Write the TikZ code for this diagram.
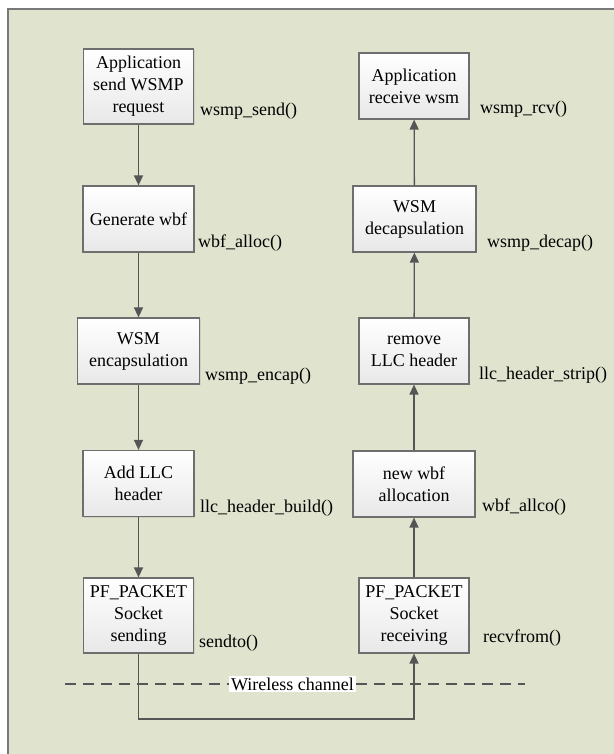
\documentclass[tikz,border=0pt]{standalone}
\usepackage{fontspec}
\setmainfont{Liberation Serif}
\usetikzlibrary{arrows.meta,shadows}
\definecolor{bgc}{RGB}{224,228,207}
\definecolor{framec}{RGB}{120,120,120}
\definecolor{boxline}{RGB}{110,110,110}
\definecolor{linec}{RGB}{85,85,85}
\tikzset{
  stepbox/.style={draw=boxline, line width=1.2pt, top color=white, bottom color=black!9,
    align=center, inner sep=0pt, minimum height=66pt, minimum width=110pt,
    font=\fontsize{18}{22}\selectfont,
    drop shadow={opacity=0.18, shadow xshift=1.2pt, shadow yshift=-1.2pt}},
  fnlabel/.style={anchor=west, inner sep=0pt, font=\fontsize{18}{22}\selectfont},
  flow/.style={draw=linec, line width=1.3pt, -{Triangle[length=10pt,width=9pt]}},
  dashline/.style={draw=linec, line width=1.3pt, dash pattern=on 11pt off 7pt},
}
\begin{document}
\begin{tikzpicture}[x=1pt,y=-1pt]
\useasboundingbox (0,0) rectangle (613,754);
\fill[white] (0,0) rectangle (613,754);
\fill[bgc] (8,9) rectangle (620,760);
\draw[framec, line width=1.4pt] (8,760) -- (8,9) -- (620,9);

% left column
\node[stepbox, minimum height=75pt] (s1) at (138.5,86.5) {Application\\send WSMP\\request};
\node[stepbox, minimum width=111pt] (s2) at (138.5,219) {Generate wbf};
\node[stepbox, minimum width=122pt] (s3) at (138.5,351) {WSM\\encapsulation};
\node[stepbox, minimum width=111pt] (s4) at (138.5,483.5) {Add LLC\\header};
\node[stepbox, minimum height=75pt] (s5) at (138.5,615.5) {PF\_PACKET\\Socket\\sending};

% right column
\node[stepbox] (r1) at (414,86) {Application\\receive wsm};
\node[stepbox, minimum width=123pt] (r2) at (414.5,219) {WSM\\decapsulation};
\node[stepbox] (r3) at (414,351) {remove\\LLC header};
\node[stepbox, minimum width=122pt] (r4) at (414,484) {new wbf\\allocation};
\node[stepbox, minimum height=75pt] (r5) at (414,615.5) {PF\_PACKET\\Socket\\receiving};

% function labels
\node[fnlabel] (l1) at (200,111) {wsmp\_send()};
\node[fnlabel] (l2) at (198,243) {wbf\_alloc()};
\node[fnlabel] (l3) at (205,376) {wsmp\_encap()};
\node[fnlabel] (l4) at (200,508) {llc\_header\_build()};
\node[fnlabel] (l5) at (199,643) {sendto()};
\node[fnlabel] (m1) at (480,109) {wsmp\_rcv()};
\node[fnlabel] (m2) at (487,243) {wsmp\_decap()};
\node[fnlabel] (m3) at (479,375) {llc\_header\_strip()};
\node[fnlabel] (m4) at (482,507) {wbf\_allco()};
\node[fnlabel] (m5) at (483,638) {recvfrom()};

% flow
\draw[flow] (s1) -- (s2);
\draw[flow] (s2) -- (s3);
\draw[flow] (s3) -- (s4);
\draw[flow] (s4) -- (s5);
\draw[flow] (r5) -- (r4);
\draw[flow] (r4) -- (r3);
\draw[flow] (r3) -- (r2);
\draw[flow] (r2) -- (r1);

% wireless channel
\coordinate (dl) at (65,684);
\coordinate (dr) at (525,684);
\node[fill=white, inner xsep=2pt, inner ysep=2pt, font=\fontsize{18}{22}\selectfont] (wc) at (292.5,684) {Wireless channel};
\draw[dashline] (dl) -- (wc.west);
\draw[dashline] (wc.east) -- (dr);

\coordinate (cb) at (276,719);
\draw[flow] (s5.south) |- (cb) -| (r5.south);
\end{tikzpicture}
\end{document}
